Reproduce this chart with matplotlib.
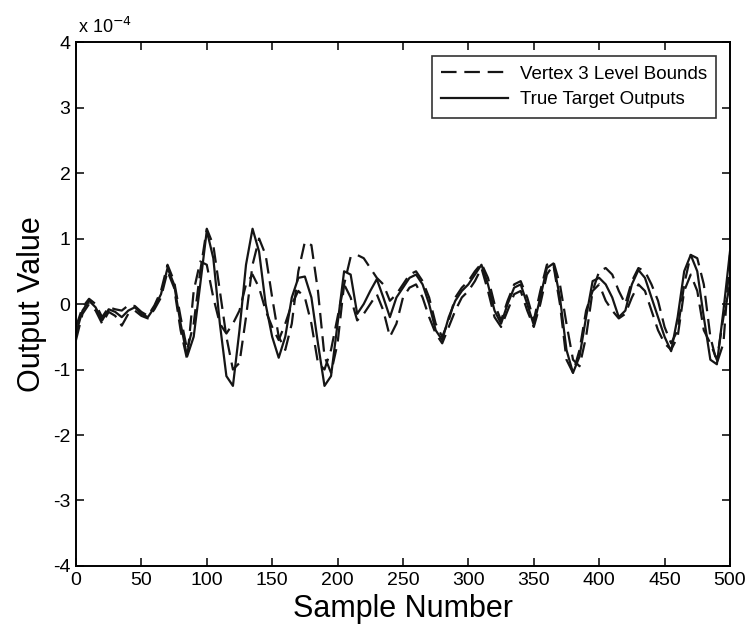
import matplotlib
matplotlib.use("Agg")
import matplotlib.pyplot as plt
from matplotlib.ticker import FixedLocator

samples = list(range(0, 501, 5))

target = [-0.45, -0.10, 0.05, -0.05, -0.25, -0.08, -0.12, -0.20, -0.10, -0.05,
          -0.15, -0.20, -0.05, 0.15, 0.55, 0.30, -0.30, -0.80, -0.50, 0.30,
          1.12, 0.70, -0.30, -1.10, -1.25, -0.40, 0.60, 1.15, 0.80, 0.00,
          -0.50, -0.82, -0.50, 0.10, 0.40, 0.42, 0.10, -0.60, -1.25, -1.10,
          -0.30, 0.50, 0.45, -0.15, 0.00, 0.20, 0.38, 0.10, -0.20, 0.10,
          0.25, 0.40, 0.45, 0.30, 0.00, -0.40, -0.55, -0.20, 0.05, 0.20,
          0.30, 0.45, 0.60, 0.30, -0.10, -0.30, 0.00, 0.25, 0.30, 0.00,
          -0.32, 0.10, 0.55, 0.62, 0.10, -0.70, -1.05, -0.80, -0.20, 0.35,
          0.40, 0.30, 0.10, -0.20, -0.10, 0.30, 0.52, 0.40, 0.10, -0.20,
          -0.50, -0.72, -0.20, 0.50, 0.75, 0.50, -0.20, -0.85, -0.92, -0.10,
          0.80]

upper = [-0.35, -0.05, 0.08, 0.00, -0.20, -0.05, -0.08, -0.10, -0.02, -0.03,
         -0.12, -0.18, -0.02, 0.20, 0.60, 0.35, -0.20, -0.70, -0.30, 0.50,
         1.15, 0.90, 0.20, -0.50, -1.00, -0.90, -0.20, 0.60, 1.00, 0.75,
         0.10, -0.50, -0.70, -0.30, 0.50, 0.95, 0.90, 0.20, -0.80, -1.05,
         -0.60, 0.30, 0.72, 0.75, 0.70, 0.55, 0.40, 0.30, 0.05, 0.15,
         0.30, 0.45, 0.50, 0.35, 0.10, -0.30, -0.50, -0.25, 0.10, 0.25,
         0.35, 0.50, 0.62, 0.40, 0.00, -0.25, 0.05, 0.30, 0.35, 0.10,
         -0.25, 0.20, 0.60, 0.65, 0.30, -0.30, -0.85, -0.95, -0.50, 0.20,
         0.50, 0.55, 0.45, 0.20, 0.00, 0.35, 0.55, 0.50, 0.30, 0.05,
         -0.35, -0.60, -0.40, 0.30, 0.75, 0.70, 0.30, -0.50, -0.90, -0.60,
         0.75]

lower = [-0.55, -0.15, 0.00, -0.10, -0.30, -0.12, -0.18, -0.33, -0.15, -0.10,
         -0.18, -0.22, -0.08, 0.10, 0.50, 0.25, -0.40, -0.85, 0.20, 0.65,
         0.60, 0.10, -0.30, -0.45, -0.30, -0.10, 0.30, 0.45, 0.25, -0.10,
         -0.35, -0.55, -0.30, 0.00, 0.20, 0.10, -0.30, -0.90, -1.00, -0.70,
         -0.20, 0.30, 0.10, -0.25, -0.15, 0.00, 0.15, -0.10, -0.50, -0.30,
         0.10, 0.25, 0.30, 0.10, -0.20, -0.45, -0.60, -0.35, -0.10, 0.10,
         0.20, 0.35, 0.55, 0.20, -0.20, -0.35, -0.10, 0.15, 0.20, -0.10,
         -0.35, 0.00, 0.45, 0.60, 0.00, -0.85, -1.05, -0.70, -0.10, 0.20,
         0.30, 0.05, -0.10, -0.22, -0.15, 0.10, 0.30, 0.20, -0.10, -0.40,
         -0.60, -0.70, -0.50, 0.20, 0.45, 0.20, -0.40, -0.60, -0.85, -0.20,
         0.30]

xticks = [0, 50, 100, 150, 200, 250, 300, 350, 400, 450, 500]
yticks = [-4, -3, -2, -1, 0, 1, 2, 3, 4]

plt.rcParams['font.family'] = ['Liberation Sans', 'DejaVu Sans']

fig = plt.figure(figsize=(7.47, 6.35), dpi=100)
ax = fig.add_axes([0.1017, 0.1087, 0.8755, 0.825])

scale = 1e-4
dash = (0, (7, 3.5))
ax.plot(samples, [v * scale for v in upper], color='#151515', lw=1.6,
        ls=dash, label='Vertex 3 Level Bounds')
ax.plot(samples, [v * scale for v in target], color='#151515', lw=1.6,
        ls='-', label='True Target Outputs')
ax.plot(samples, [v * scale for v in lower], color='#151515', lw=1.6,
        ls=dash)

ax.set_xlim(0, 500)
ax.set_ylim(-4e-4, 4e-4)
ax.xaxis.set_major_locator(FixedLocator(xticks))
ax.yaxis.set_major_locator(FixedLocator([t * scale for t in yticks]))
ax.set_xticklabels([str(t) for t in xticks])
ax.set_yticklabels([str(t) for t in yticks])
ax.tick_params(direction='in', top=True, right=True, length=6,
               labelsize=14, width=1.1, pad=4)
for sp in ax.spines.values():
    sp.set_linewidth(1.4)

ax.set_xlabel('Sample Number', fontsize=22, labelpad=4)
ax.set_ylabel('Output Value', fontsize=22, labelpad=4)

ax.text(0.003, 1.01, r'x 10$^{-4}$', transform=ax.transAxes, fontsize=13,
        ha='left', va='bottom')

leg = ax.legend(loc='upper right', fontsize=13.5, frameon=True, fancybox=False,
                edgecolor='black', handlelength=3.6, borderpad=0.5,
                bbox_to_anchor=(0.979, 0.973), borderaxespad=0,
                labelspacing=0.45, handletextpad=0.6)
leg.get_frame().set_linewidth(1.2)

fig.savefig('out.png', dpi=100, facecolor='white')
